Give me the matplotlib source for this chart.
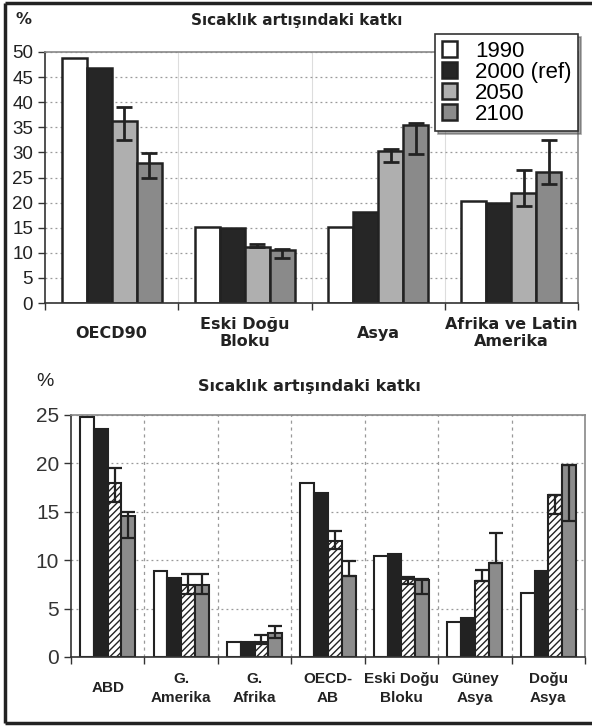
import numpy as np
import matplotlib
matplotlib.use("Agg")
import matplotlib.pyplot as plt
from matplotlib.lines import Line2D

# ---- data: top chart (regions) ----
regions = ["OECD90", "Eski Doğu\nBloku", "Asya", "Afrika ve Latin\nAmerika"]
years = ["1990", "2000 (ref)", "2050", "2100"]
top_1990 = [48.9, 15.1, 15.2, 20.3]
top_2000 = [46.9, 14.9, 18.1, 20.0]
top_2050 = [36.3, 11.2, 30.3, 22.0]
top_2100 = [27.9, 10.6, 35.4, 26.0]
top_2050_lo = [32.5, 11.2, 28.0, 19.4]
top_2050_hi = [39.0, 11.7, 30.6, 26.5]
top_2100_lo = [25.0, 8.9, 29.7, 23.8]
top_2100_hi = [29.9, 10.7, 35.8, 32.5]

# ---- data: bottom chart (countries) ----
countries = ["ABD", "G.\nAmerika", "G.\nAfrika", "OECD-\nAB", "Eski Doğu\nBloku", "Güney\nAsya", "Doğu\nAsya"]
bot_1990 = [24.8, 8.9, 1.5, 18.0, 10.4, 3.65, 6.6]
bot_2000 = [23.6, 8.2, 1.5, 16.9, 10.6, 4.05, 8.9]
bot_2050 = [18.0, 7.4, 1.6, 12.0, 8.1, 7.85, 16.7]
bot_2100 = [14.6, 7.4, 2.45, 8.4, 8.0, 9.75, 19.8]
bot_2050_lo = [16.0, 6.5, 1.3, 11.2, 7.5, 7.85, 14.8]
bot_2050_hi = [19.5, 8.6, 2.3, 13.0, 8.3, 9.0, 16.7]
bot_2100_lo = [12.3, 6.5, 2.0, 8.4, 6.5, 9.75, 14.1]
bot_2100_hi = [15.0, 8.6, 3.2, 9.9, 8.1, 12.8, 19.8]

W, H = 592, 726
fig = plt.figure(figsize=(W / 100, H / 100), dpi=100)

def fx(px):
    return px / W

def fy(py):
    return 1 - py / H

tick_font = ["Liberation Sans", "DejaVu Sans"]
head_font = ["DejaVu Sans"]
narrow_font = ["Liberation Sans Narrow", "Liberation Sans", "DejaVu Sans"]

# outer frame of the scanned page (no right side, it is cut off)
frame = dict(transform=fig.transFigure, color="#222222", lw=2.5, solid_capstyle="butt")
fig.add_artist(Line2D([fx(5), fx(5)], [fy(3), fy(723)], **frame))
fig.add_artist(Line2D([fx(5), 1.0], [fy(3), fy(3)], **frame))
fig.add_artist(Line2D([fx(5), 1.0], [fy(723), fy(723)], **frame))


def errs(vals, lo, hi):
    v = np.array(vals)
    return np.vstack([v - np.array(lo), np.array(hi) - v])


def style_axes(ax, n, ymax, step, grid_x_style):
    ax.set_xlim(-0.5, n - 0.5)
    ax.set_ylim(0, ymax)
    ax.set_yticks(np.arange(0, ymax + 0.1, step))
    ax.set_xticks([])
    ax.set_xticks(np.arange(-0.5, n), minor=True)
    ax.tick_params(axis="x", which="minor", length=5, width=1, direction="out", color="#333333")
    ax.tick_params(axis="y", length=5, width=1, direction="out", color="#333333", colors="#222222")
    ax.grid(axis="y", ls=(0, (1.5, 2.5)), color="#999999", lw=0.9)
    for b in np.arange(0.5, n - 0.5):
        ax.axvline(b, **grid_x_style, zorder=0)
    ax.set_axisbelow(True)
    for s in ["top", "right"]:
        ax.spines[s].set_color("#888888")
        ax.spines[s].set_linewidth(1.2)
    for s in ["left", "bottom"]:
        ax.spines[s].set_color("#333333")
        ax.spines[s].set_linewidth(1.2)


# ================= top chart =================
ax1 = fig.add_axes([fx(45), fy(303), fx(578) - fx(45), fy(52) - fy(303)])
n1 = len(regions)
x1 = np.arange(n1)
w = 0.75 / 4
ekw = dict(ecolor="#222222", elinewidth=2, capsize=6, capthick=2)
ax1.bar(x1 - 1.5 * w, top_1990, w, color="white", edgecolor="#222222", lw=1.8, label=years[0])
ax1.bar(x1 - 0.5 * w, top_2000, w, color="#262626", edgecolor="#222222", lw=1.8, label=years[1])
ax1.bar(x1 + 0.5 * w, top_2050, w, color="#afafaf", edgecolor="#222222", lw=1.8, label=years[2],
        yerr=errs(top_2050, top_2050_lo, top_2050_hi), error_kw=ekw)
ax1.bar(x1 + 1.5 * w, top_2100, w, color="#8a8a8a", edgecolor="#222222", lw=1.8, label=years[3],
        yerr=errs(top_2100, top_2100_lo, top_2100_hi), error_kw=ekw)
style_axes(ax1, n1, 50, 5, dict(color="#dddddd", lw=0.8))
ax1.tick_params(axis="y", labelsize=13.5)
for lab in ax1.get_yticklabels():
    lab.set_family(tick_font)

for i, lab in enumerate(regions):
    ax1.text(i, -0.12, lab, transform=ax1.get_xaxis_transform(), ha="center", va="center",
             family=head_font, fontweight="bold", fontsize=11.5, color="#222222", linespacing=1.15)

leg = ax1.legend(loc="upper right", bbox_to_anchor=(1.0, 1.072), borderaxespad=0,
                 prop={"family": tick_font, "size": 16},
                 frameon=True, fancybox=False, shadow=True, handlelength=0.7, handleheight=0.7,
                 handletextpad=0.8, labelspacing=0.0, borderpad=0.3)
leg.get_frame().set_edgecolor("#333333")
leg.get_frame().set_linewidth(1.2)

fig.text(fx(23), fy(19), "%", ha="center", va="center", family=head_font, fontweight="bold",
         fontsize=11.5, color="#222222")
fig.text(fx(297), fy(20), "Sıcaklık artışındaki katkı", ha="center", va="center", family=head_font,
         fontweight="bold", fontsize=11, color="#222222")

# ================= bottom chart =================
ax2 = fig.add_axes([fx(71), fy(657), fx(585) - fx(71), fy(415) - fy(657)])
n2 = len(countries)
x2 = np.arange(n2)
ekw2 = dict(ecolor="#222222", elinewidth=1.6, capsize=5, capthick=1.6)
plt.rcParams["hatch.linewidth"] = 1.0
ax2.bar(x2 - 1.5 * w, bot_1990, w, color="white", edgecolor="#222222", lw=1.5)
ax2.bar(x2 - 0.5 * w, bot_2000, w, color="#222222", edgecolor="#222222", lw=1.5)
ax2.bar(x2 + 0.5 * w, bot_2050, w, color="white", edgecolor="#222222", lw=1.5, hatch="/////",
        yerr=errs(bot_2050, bot_2050_lo, bot_2050_hi), error_kw=ekw2)
ax2.bar(x2 + 1.5 * w, bot_2100, w, color="#8c8c8c", edgecolor="#222222", lw=1.5,
        yerr=errs(bot_2100, bot_2100_lo, bot_2100_hi), error_kw=ekw2)
style_axes(ax2, n2, 25, 5, dict(color="#999999", lw=0.9, ls=(0, (2.5, 3))))
ax2.tick_params(axis="y", labelsize=15, colors="#333333")
for lab in ax2.get_yticklabels():
    lab.set_family(tick_font)

for i, lab in enumerate(countries):
    ax2.text(i, -0.13, lab, transform=ax2.get_xaxis_transform(), ha="center", va="center",
             family=narrow_font, fontweight="bold", fontsize=11, color="#222222", linespacing=1.5)

fig.text(fx(45), fy(382), "%", ha="center", va="center", family=tick_font, fontsize=14, color="#222222")
fig.text(fx(309), fy(386), "Sıcaklık artışındaki katkı", ha="center", va="center", family=head_font,
         fontweight="bold", fontsize=11.5, color="#222222")

fig.savefig("out.png", dpi=100)
